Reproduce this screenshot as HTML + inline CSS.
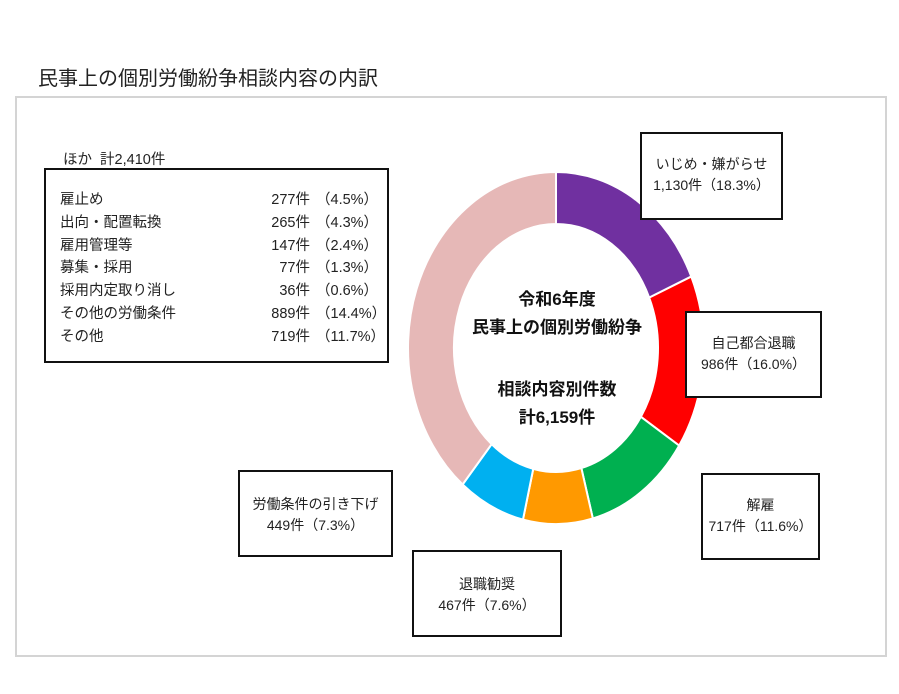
<!DOCTYPE html>
<html><head><meta charset="utf-8">
<style>
body{margin:0;width:899px;height:694px;background:#fff;position:relative;overflow:hidden;font-family:"Liberation Sans","Noto Sans CJK JP",sans-serif;color:#222}
.abs{position:absolute}
.box{position:absolute;border:2px solid #111;background:#fff;box-sizing:border-box;text-align:center;font-size:14px;line-height:21px}
.row{position:absolute;left:60px;font-size:14.5px;white-space:nowrap}
.row .n{position:absolute;left:190px;width:60px;text-align:right}
.row .p{position:absolute;left:256px}
svg text{font-weight:600}
</style></head><body>
<div class="abs" style="left:38px;top:62px;font-size:20px">民事上の個別労働紛争相談内容の内訳</div>
<div class="abs" style="left:15px;top:96px;width:872px;height:561px;border:2px solid #d4d4d4;box-sizing:border-box"></div>
<div class="abs" style="left:63px;top:148px;font-size:14.5px">ほか&nbsp;&nbsp;計2,410件</div>
<div class="abs" style="left:44px;top:168px;width:345px;height:195px;border:2px solid #111;box-sizing:border-box"></div>
<div id="rows"></div>
<svg class="abs" style="left:0;top:0" width="899" height="694">
<g id="donut"></g>
<text x="557" y="305" font-size="17" text-anchor="middle" fill="#111">令和6年度</text>
<text x="557" y="333" font-size="17" text-anchor="middle" fill="#111">民事上の個別労働紛争</text>
<text x="557" y="395" font-size="17" text-anchor="middle" fill="#111">相談内容別件数</text>
<text x="557" y="423" font-size="17" text-anchor="middle" fill="#111">計6,159件</text>
</svg>
<div class="box" style="left:640px;top:132px;width:143px;height:88px;padding-top:20px">いじめ・嫌がらせ<br>1,130件（18.3%）</div>
<div class="box" style="left:685px;top:311px;width:137px;height:87px;padding-top:20px">自己都合退職<br>986件（16.0%）</div>
<div class="box" style="left:701px;top:473px;width:119px;height:87px;padding-top:20px">解雇<br>717件（11.6%）</div>
<div class="box" style="left:412px;top:550px;width:150px;height:87px;padding-top:22px">退職勧奨<br>467件（7.6%）</div>
<div class="box" style="left:238px;top:470px;width:155px;height:87px;padding-top:22px">労働条件の引き下げ<br>449件（7.3%）</div>
<script>
const categories=["いじめ・嫌がらせ","自己都合退職","解雇","退職勧奨","労働条件の引き下げ","ほか"];
const values=[1130,986,717,467,449,2410];
const colors=["#7030a0","#ff0000","#00b050","#ff9900","#00b0f0","#e6b8b7"];
const otherLabels=["雇止め","出向・配置転換","雇用管理等","募集・採用","採用内定取り消し","その他の労働条件","その他"];
const otherValues=[277,265,147,77,36,889,719];
const otherPct=["4.5","4.3","2.4","1.3","0.6","14.4","11.7"];
const cx=556,cy=348,rx=148,ry=176,irx=102,iry=124;
const total=values.reduce((a,b)=>a+b,0);
const g=document.getElementById('donut');
function pt(a,X,Y){return [cx+X*Math.sin(a),cy-Y*Math.cos(a)];}
let acc=0;
values.forEach((v,i)=>{
  const a0=acc/total*2*Math.PI;acc+=v;const a1=acc/total*2*Math.PI;
  const big=(a1-a0)>Math.PI?1:0;
  const p1=pt(a0,rx,ry),p2=pt(a1,rx,ry),p3=pt(a1,irx,iry),p4=pt(a0,irx,iry);
  const p=document.createElementNS('http://www.w3.org/2000/svg','path');
  p.setAttribute('d',`M${p1} A${rx},${ry} 0 ${big} 1 ${p2} L${p3} A${irx},${iry} 0 ${big} 0 ${p4} Z`);
  p.setAttribute('fill',colors[i]);p.setAttribute('stroke','#fff');p.setAttribute('stroke-width','2');
  
  
  g.appendChild(p);
});
const rows=document.getElementById('rows');
otherLabels.forEach((l,i)=>{
  const d=document.createElement('div');d.className='row';d.style.top=(188+i*22.8)+'px';
  
  
  d.innerHTML=`${l}<span class="n">${otherValues[i]}件</span><span class="p">（${otherPct[i]}%）</span>`;
  rows.appendChild(d);
});
</script>
</body></html>
